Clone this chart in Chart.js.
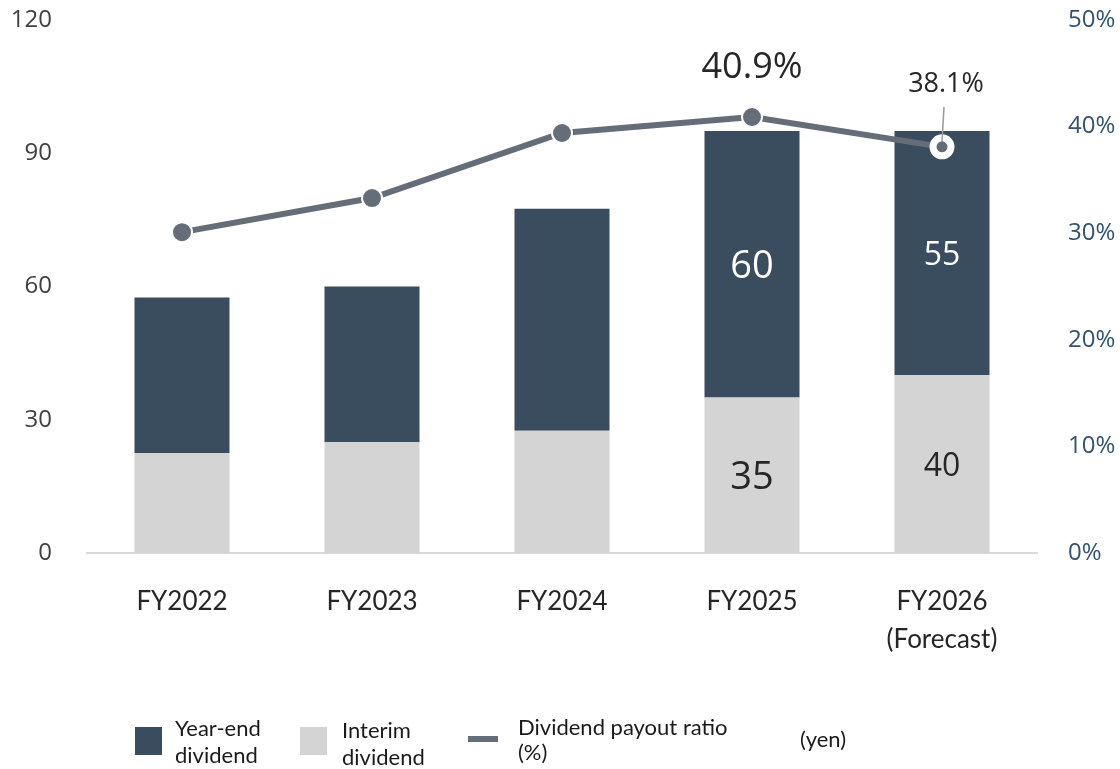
<!DOCTYPE html>
<html><head><meta charset="utf-8">
<script src="https://cdn.jsdelivr.net/npm/chart.js@4/dist/chart.umd.min.js"></script>
<style>html,body{margin:0;padding:0;background:#fff;overflow:hidden}canvas{display:block}</style>
</head><body>
<canvas id="c" width="1120" height="769"></canvas>
<script>
const categories = [['FY2022'], ['FY2023'], ['FY2024'], ['FY2025'], ['FY2026', '(Forecast)']];
const interimDividend = [22.5, 25, 27.5, 35, 40];
const yearEndDividend = [35, 35, 50, 60, 55];
const payoutRatio = [30.1, 33.3, 39.4, 40.9, 38.1];
const leftTicks = [0, 30, 60, 90, 120];
const rightTicks = [0, 10, 20, 30, 40, 50];
const labeledBars = [3, 4];
const seriesNames = ['Interim dividend', 'Year-end dividend', 'Dividend payout ratio (%)'];

const NARROW = "Lato, sans-serif";
const OPEN = "'Open Sans', sans-serif";
const C_DARK = '#3a4d5f';
const C_LIGHT = '#d4d4d4';
const C_LINE = '#656d79';

const labelsPlugin = {
  id: 'customLabels',
  afterDatasetsDraw(chart) {
    const ctx = chart.ctx;
    const mInt = chart.getDatasetMeta(0);
    const mYe = chart.getDatasetMeta(1);
    const mLine = chart.getDatasetMeta(2);
    ctx.save();
    ctx.textAlign = 'center';
    ctx.textBaseline = 'middle';
    labeledBars.forEach((i, k) => {
      const big = k === 0;
      const fs = big ? 38 : 32;
      const ye = mYe.data[i], it = mInt.data[i];
      ctx.font = fs + 'px ' + OPEN;
      ctx.fillStyle = '#ffffff';
      ctx.fillText(String(yearEndDividend[i]), ye.x, (ye.y + ye.base) / 2 + 3);
      ctx.fillStyle = '#262626';
      ctx.fillText(String(interimDividend[i]), it.x, (it.y + it.base) / 2 + 3);
      const p = mLine.data[i];
      if (big) {
        ctx.font = '36px ' + OPEN;
        ctx.fillStyle = '#262626';
        ctx.fillText(payoutRatio[i].toFixed(1) + '%', p.x, p.y - 49);
      } else {
        ctx.strokeStyle = '#9a9a9a';
        ctx.lineWidth = 1.5;
        ctx.beginPath();
        ctx.moveTo(p.x + 2, p.y - 40);
        ctx.lineTo(p.x, p.y - 5);
        ctx.stroke();
        ctx.font = '27px ' + OPEN;
        ctx.fillStyle = '#262626';
        ctx.fillText(payoutRatio[i].toFixed(1) + '%', p.x + 4, p.y - 63);
      }
    });
    ctx.restore();
  },
  afterDraw(chart) {
    const ctx = chart.ctx;
    ctx.save();
    ctx.textBaseline = 'middle';
    ctx.textAlign = 'left';
    ctx.font = '22px ' + NARROW;
    ctx.fillStyle = C_DARK; ctx.fillRect(135, 727, 27, 28);
    ctx.fillStyle = '#1a1a1a';
    ctx.fillText('Year-end', 175, 729); ctx.fillText('dividend', 175, 756);
    ctx.fillStyle = C_LIGHT; ctx.fillRect(300, 727, 27, 28);
    ctx.fillStyle = '#1a1a1a';
    ctx.fillText('Interim', 342, 731); ctx.fillText('dividend', 342, 758);
    ctx.fillStyle = C_LINE; ctx.fillRect(468, 736, 30, 6);
    ctx.fillStyle = '#1a1a1a';
    ctx.fillText('Dividend payout ratio', 518, 728); ctx.fillText('(%)', 518, 753);
    ctx.fillText('(yen)', 800, 740);
    ctx.restore();
  }
};

function fixVert(width) {
  return function (s) { s.width = width; s.paddingTop = 20; s.paddingBottom = 0; };
}

new Chart(document.getElementById('c'), {
  data: {
    labels: categories,
    datasets: [
      { type: 'bar', label: seriesNames[0], data: interimDividend, backgroundColor: C_LIGHT, yAxisID: 'y', order: 2, barPercentage: 0.5, categoryPercentage: 1.0 },
      { type: 'bar', label: seriesNames[1], data: yearEndDividend, backgroundColor: C_DARK, yAxisID: 'y', order: 2, barPercentage: 0.5, categoryPercentage: 1.0 },
      { type: 'line', label: seriesNames[2], data: payoutRatio, yAxisID: 'y1', order: 0,
        borderColor: C_LINE, borderWidth: 6, tension: 0, fill: false,
        pointRadius: [10, 10, 10, 10, 9], pointBorderWidth: [2, 2, 2, 2, 7],
        pointBackgroundColor: C_LINE, pointBorderColor: '#ffffff' }
    ]
  },
  options: {
    responsive: false,
    animation: false,
    devicePixelRatio: 1,
    layout: { padding: { top: 0, left: 0, right: 0, bottom: 0 } },
    plugins: { legend: { display: false }, tooltip: { enabled: false } },
    scales: {
      x: {
        stacked: true,
        grid: { display: false },
        border: { display: true, color: '#d9d9d9', width: 2 },
        ticks: { color: '#262626', font: { family: NARROW, size: 26, lineHeight: 1.45 }, padding: 22, maxRotation: 0 },
        afterFit(s) { s.height = 216; }
      },
      y: {
        stacked: true, position: 'left', min: 0, max: 120,
        grid: { display: false }, border: { display: false },
        afterBuildTicks(s) { s.ticks = leftTicks.map(v => ({ value: v })); },
        ticks: { color: '#404040', font: { family: OPEN, size: 24 }, padding: 27 },
        afterFit: fixVert(87)
      },
      y1: {
        position: 'right', min: 0, max: 50,
        grid: { display: false }, border: { display: false },
        afterBuildTicks(s) { s.ticks = rightTicks.map(v => ({ value: v })); },
        ticks: { color: '#335272', font: { family: OPEN, size: 24 }, padding: 23, callback: v => v + '%' },
        afterFit: fixVert(83)
      }
    }
  },
  plugins: [labelsPlugin]
});
</script>
</body></html>
